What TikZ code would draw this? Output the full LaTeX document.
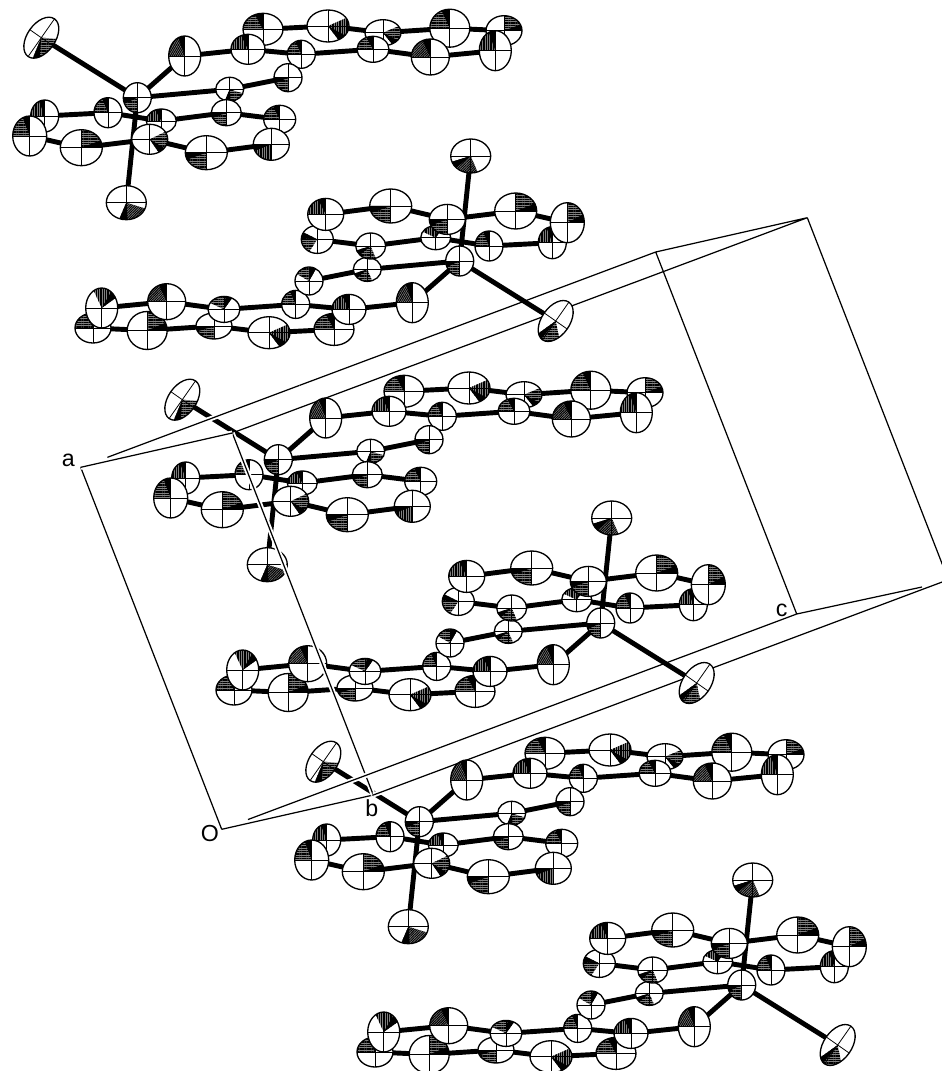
\documentclass[tikz,border=0pt]{standalone}
\usepackage{fontspec}
\setmainfont{Liberation Sans}
\usetikzlibrary{patterns.meta,calc}

\tikzset{
  bond/.style={line width=2.8pt},
  cellback/.style={line width=0.7pt},
  cellfront/.style={line width=0.7pt, preaction={draw=white, line width=2.8pt}},
  atomedge/.style={line width=0.75pt},
  axisline/.style={line width=0.45pt},
  shadebase/.style={fill=black!50},
  lbl/.style={inner sep=0pt, font=\fontsize{13.2}{15}\selectfont},
}

% one ORTEP-like ellipsoid: dx dy rx ry rot q hatch
\newcommand\atomdraw[7]{%
  \begin{scope}[shift={(#1,#2)},yscale=-1,rotate=#5]
    \fill[white] (0,0) ellipse [x radius=#3, y radius=#4];
    \fill[shadebase] (0,0) -- ({#6}:#3 and #4) arc[start angle={#6}, delta angle=90, x radius=#3, y radius=#4] -- cycle;
    \fill[pattern={Lines[angle=#7,distance=1.0pt,line width=0.55pt]}] (0,0) -- ({#6}:#3 and #4) arc[start angle={#6}, delta angle=90, x radius=#3, y radius=#4] -- cycle;
    \fill (0,0) -- ({#6}:#3 and #4) arc[start angle={#6}, delta angle=24, x radius=#3, y radius=#4] -- cycle;
    \draw[axisline] (-#3,0) -- (#3,0) (0,-#4) -- (0,#4);
    \draw[atomedge] (0,0) ellipse [x radius=#3, y radius=#4];
  \end{scope}}

\newcommand\AtomCoord[9]{\coordinate (#1) at (#2,#3);}
\newcommand\AtomDrawA[9]{\atomdraw{#2}{#3}{#4}{#5}{#6}{#7}{#9}}
\newcommand\AtomDrawB[9]{\atomdraw{#2}{#3}{#4}{#5}{#6}{#8+180}{#9}}

% name dx dy rx ry rot qA qB hatch
\newcommand\atomlist[1]{%
  \AtomX{#1u2}{125.7}{-68.4}{20}{16}{0}{90}{90}{0}%
  \AtomX{#1u1}{110.7}{-48.4}{17}{15}{0}{90}{90}{90}%
  \AtomX{#1u3}{190.7}{-71.7}{21}{16}{0}{300}{300}{90}%
  \AtomX{#1u4}{245.7}{-65}{18}{13}{0}{300}{180}{0}%
  \AtomX{#1u5}{235.7}{-48.4}{16}{13}{0}{90}{60}{0}%
  \AtomX{#1u6}{164}{-43.4}{14}{14}{0}{90}{90}{0}%
  \AtomX{#1u7}{312.5}{-69.5}{20}{19}{0}{90}{0}{0}%
  \AtomX{#1u8}{366.7}{-67}{18}{15}{0}{0}{90}{0}%
  \AtomX{#1u9}{358}{-47}{16}{20}{0}{90}{30}{90}%
  \AtomX{#1u10}{293}{-40.7}{19}{18}{0}{90}{90}{45}%
  \AtomX{#1u11}{150.7}{-20}{14}{14}{0}{180}{60}{0}%
  \AtomX{#1u12}{92.4}{-8.4}{14}{12}{0}{250}{200}{0}%
  \AtomX{#1up}{47.4}{-41.7}{16}{20}{0}{90}{90}{60}%
  \AtomX{#1cl}{-96}{-60}{23}{14}{55}{200}{150}{0}%
  \AtomX{#1l2}{-92.6}{18.3}{14}{16}{0}{90}{90}{90}%
  \AtomX{#1l3}{-107.6}{38.3}{17}{20}{0}{90}{0}{0}%
  \AtomX{#1l1}{-29.3}{15}{14}{15}{0}{90}{90}{0}%
  \AtomX{#1l4}{-56}{50}{21}{18}{0}{0}{0}{0}%
  \AtomX{#1l6}{24}{23.3}{15}{12}{0}{90}{60}{90}%
  \AtomX{#1l5}{12.4}{41.6}{18}{15}{0}{300}{180}{0}%
  \AtomX{#1l7}{89}{15}{15}{13}{0}{180}{200}{0}%
  \AtomX{#1l8}{142.4}{21.6}{16}{14}{0}{90}{150}{0}%
  \AtomX{#1l9}{134}{46.6}{18}{16}{0}{180}{90}{90}%
  \AtomX{#1l10}{69}{55}{21}{17}{0}{180}{180}{0}%
  \AtomX{#1si}{0}{0}{14}{15}{0}{180}{180}{0}%
  \AtomX{#1bt}{-11}{105}{20}{17}{0}{250}{200}{45}%
}

\newcommand\bondlist[1]{%
  \draw[bond] (#1si) -- (#1cl) (#1si) -- (#1up) (#1si) -- (#1bt) (#1si) -- (#1u12)
    (#1u12) -- (#1u11) -- (#1u6) (#1up) -- (#1u1) (#1u1) -- (#1u2) (#1u1) -- (#1u6)
    (#1u2) -- (#1u3) -- (#1u4) -- (#1u5) -- (#1u6) (#1u5) -- (#1u10) -- (#1u9) -- (#1u8) -- (#1u7) -- (#1u4)
    (#1l1) -- (#1l2) -- (#1l3) -- (#1l4) -- (#1l5) -- (#1l6) -- (#1l1)
    (#1l5) -- (#1l10) -- (#1l9) -- (#1l8) -- (#1l7) -- (#1l6);}

\newcommand\moleculeA[3]{%
  \begin{scope}[shift={(#2,#3)}]
    \let\AtomX\AtomCoord \atomlist{#1}
    \bondlist{#1}
    \let\AtomX\AtomDrawA \atomlist{#1}
  \end{scope}}
\newcommand\moleculeB[3]{%
  \begin{scope}[shift={(#2,#3)},rotate=180]
    \let\AtomX\AtomCoord \atomlist{#1}
    \bondlist{#1}
    \let\AtomX\AtomDrawB \atomlist{#1}
  \end{scope}}

\begin{document}
\begin{tikzpicture}[x=0.02cm,y=0.02cm,yscale=-1]
  \useasboundingbox (0,0) rectangle (941,1071);
  \fill[white] (0,0) rectangle (941,1071);

  % unit cell corners
  \coordinate (O) at (221.7,829.3);
  \coordinate (CA) at (80.7,467.3);
  \coordinate (CB) at (373.3,795);
  \coordinate (CC) at (796.7,614);
  \coordinate (CAB) at (232.3,433);
  \coordinate (CAC) at (655.7,252);
  \coordinate (CBC) at (948.3,579.7);
  \coordinate (CABC) at (807.3,217.7);
  \coordinate (O0) at (248,819.5);
  \coordinate (A0) at (107.5,457.3);
  \coordinate (C1) at (922,587);

  % cell edges behind the molecules
  \draw[cellback] (O) -- (CA) (O) -- (CB) (O0) -- (CC) (CA) -- (CAB) (A0) -- (CAC)
    (CB) -- (CAB) (CB) -- (CBC) (CC) -- (C1) (CC) -- (CAC) (CAC) -- (CABC)
    (CAB) -- (CABC) (CBC) -- (CABC);

  \moleculeA{Ma}{137.3}{97.7}
  \moleculeB{Mb}{459.7}{261}
  \moleculeA{Mc}{278.3}{459.7}
  \moleculeB{Md}{600.7}{623}
  \moleculeA{Me}{419.3}{821.7}
  \moleculeB{Mf}{741.7}{985}

  % cell edges in front of the molecules
  \draw[cellfront] (CB) -- (CAB);
  \draw[cellfront] (CA) -- (CAB);
  \draw[cellfront] (A0) -- ($(A0)!0.35!(CAC)$);
  \draw[cellfront] (O0) -- ($(O0)!0.35!(CC)$);
  \draw[cellfront] (CB) -- ($(CB)!0.1!(CBC)$);

  \node[lbl] (la) at (68.3,460) {a};
  \node[lbl] (lb) at (371.7,808.5) {b};
  \node[lbl] (lc) at (781.7,610) {c};
  \node[lbl] (lO) at (210,833.3) {O};
\end{tikzpicture}
\end{document}
